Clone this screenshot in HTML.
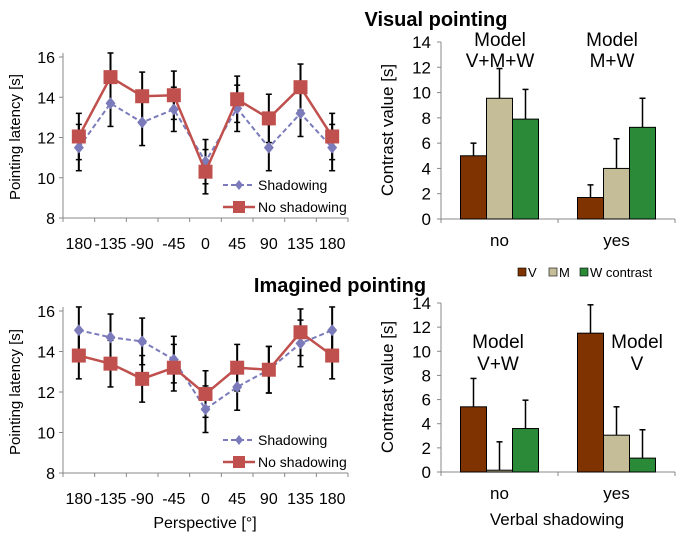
<!DOCTYPE html>
<html><head><meta charset="utf-8"><style>
body{margin:0;background:#fff}
svg text{font-family:"Liberation Sans",sans-serif;fill:#000}
</style></head><body>
<svg id="s" width="683" height="535" viewBox="0 0 683 535" xmlns="http://www.w3.org/2000/svg">
<text x="436" y="26" font-size="20" font-weight="bold" text-anchor="middle">Visual pointing</text>
<text x="340" y="292" font-size="20" font-weight="bold" text-anchor="middle">Imagined pointing</text>
<text transform="translate(20,137) rotate(-90)" font-size="15" text-anchor="middle">Pointing latency [s]</text>
<text transform="translate(20,392) rotate(-90)" font-size="15" text-anchor="middle">Pointing latency [s]</text>
<text transform="translate(393,130) rotate(-90)" font-size="17" text-anchor="middle">Contrast value [s]</text>
<text transform="translate(393,387) rotate(-90)" font-size="17" text-anchor="middle">Contrast value [s]</text>
<text x="205" y="528" font-size="16" text-anchor="middle">Perspective [°]</text>
<text x="557" y="525" font-size="17" text-anchor="middle">Verbal shadowing</text>
<g font-size="13">
<rect x="518" y="268" width="8" height="8" fill="#7f3300" stroke="#000" stroke-width="0.6"/><text x="528" y="277">V</text>
<rect x="549" y="268" width="8" height="8" fill="#c4bd97" stroke="#000" stroke-width="0.6"/><text x="559" y="277">M</text>
<rect x="580" y="268" width="8" height="8" fill="#2a8a38" stroke="#000" stroke-width="0.6"/><text x="590" y="277">W contrast</text>
</g>
<text x="500" y="46" font-size="19" text-anchor="middle">Model</text>
<text x="500" y="67" font-size="19" text-anchor="middle">V+M+W</text>
<text x="612" y="46" font-size="19" text-anchor="middle">Model</text>
<text x="612" y="67" font-size="19" text-anchor="middle">M+W</text>
<text x="498" y="348" font-size="19" text-anchor="middle">Model</text>
<text x="498" y="370" font-size="19" text-anchor="middle">V+W</text>
<text x="637" y="348" font-size="19" text-anchor="middle">Model</text>
<text x="637" y="370" font-size="19" text-anchor="middle">V</text>
</svg>
<script>
const perspCats=["180","-135","-90","-45","0","45","90","135","180"];
const visShadow=[11.5,13.7,12.75,13.4,10.8,13.45,11.5,13.2,11.5];
const visShadowErr=[1.15,1.15,1.15,1.1,1.1,1.15,1.15,1.15,1.15];
const visNoShadow=[12.05,15.0,14.05,14.1,10.3,13.9,12.95,14.5,12.05];
const visNoShadowErr=[1.15,1.2,1.2,1.2,1.1,1.15,1.2,1.15,1.15];
const imgShadow=[15.05,14.7,14.5,13.6,11.15,12.25,13.1,14.4,15.05];
const imgShadowErr=[1.15,1.15,1.15,1.15,1.15,1.15,1.15,1.15,1.15];
const imgNoShadow=[13.8,13.4,12.65,13.2,11.9,13.2,13.1,14.95,13.8];
const imgNoShadowErr=[1.15,1.15,1.15,1.15,1.15,1.15,1.15,1.15,1.15];
const lineTicks=[8,10,12,14,16];
const barGroups=["no","yes"];
const visV=[5.0,1.7],visVErr=[1.0,1.0];
const visM=[9.55,4.0],visMErr=[2.35,2.35];
const visW=[7.9,7.25],visWErr=[2.35,2.3];
const imgV=[5.4,11.5],imgVErr=[2.35,2.35];
const imgM=[0.15,3.05],imgMErr=[2.35,2.35];
const imgW=[3.6,1.15],imgWErr=[2.35,2.35];
const barTicks=[0,2,4,6,8,10,12,14];

const NS="http://www.w3.org/2000/svg",svg=document.getElementById('s');
function mk(t,a,p){const e=document.createElementNS(NS,t);for(const k in a)e.setAttribute(k,a[k]);(p||svg).appendChild(e);return e;}

function lineChart(name,top,bot,s1,e1,s2,e2,legY){
  const x0=63,x1=348,n=perspCats.length,cw=(x1-x0)/n;
  const y=v=>bot-(v-8)/8*(bot-top);const x=i=>x0+cw*(i+0.5);
  const g=mk('g',{});
  mk('line',{x1:x0,y1:top-4,x2:x0,y2:bot,stroke:'#888'},g);
  mk('line',{x1:x0,y1:bot,x2:x1,y2:bot,stroke:'#888'},g);
  lineTicks.forEach(t=>{mk('line',{x1:x0-4,y1:y(t),x2:x0,y2:y(t),stroke:'#888'},g);
    const tx=mk('text',{x:x0-8,y:y(t)+6,'font-size':16,'text-anchor':'end'},g);tx.textContent=t;
    });
  for(let i=0;i<=n;i++)mk('line',{x1:x0+cw*i,y1:bot,x2:x0+cw*i,y2:bot+4,stroke:'#888'},g);
  perspCats.forEach((c,i)=>{const tx=mk('text',{x:x(i),y:bot+31,'font-size':16,'text-anchor':'middle'},g);tx.textContent=c;
    });
  [[s1,e1],[s2,e2]].forEach(([s,e])=>s.forEach((v,i)=>{
    mk('line',{x1:x(i),y1:y(v-e[i]),x2:x(i),y2:y(v+e[i]),stroke:'#000','stroke-width':2},g);
    [v-e[i],v+e[i]].forEach(w=>mk('line',{x1:x(i)-3,y1:y(w),x2:x(i)+3,y2:y(w),stroke:'#000','stroke-width':1.5},g));}));
  const p1=mk('polyline',{points:s1.map((v,i)=>x(i)+','+y(v)).join(' '),fill:'none',stroke:'#7b7bbb','stroke-width':2,'stroke-dasharray':'5,3'},g);
  
  s1.forEach((v,i)=>{const d=mk('path',{d:`M${x(i)},${y(v)-6}l5,6l-5,6l-5,-6z`,fill:'#7b7bbb'},g);
    });
  const p2=mk('polyline',{points:s2.map((v,i)=>x(i)+','+y(v)).join(' '),fill:'none',stroke:'#c0504d','stroke-width':2.5},g);
  
  s2.forEach((v,i)=>{const r=mk('rect',{x:x(i)-7,y:y(v)-7,width:14,height:14,fill:'#c0504d'},g);
    });
  const lg=mk('g',{},g);
  mk('line',{x1:223,y1:legY,x2:255,y2:legY,stroke:'#7b7bbb','stroke-width':2,'stroke-dasharray':'5,3'},lg);
  mk('path',{d:`M239,${legY-5}l4,5l-4,5l-4,-5z`,fill:'#7b7bbb'},lg);
  let t=mk('text',{x:258,y:legY+5,'font-size':14},lg);t.textContent='Shadowing';
  mk('line',{x1:223,y1:legY+22,x2:255,y2:legY+22,stroke:'#c0504d','stroke-width':2.5},lg);
  mk('rect',{x:233,y:legY+16,width:12,height:12,fill:'#c0504d'},lg);
  t=mk('text',{x:258,y:legY+27,'font-size':14},lg);t.textContent='No shadowing';
}
lineChart('visual-line-chart',57,218,visShadow,visShadowErr,visNoShadow,visNoShadowErr,185);
lineChart('imagined-line-chart',311,473,imgShadow,imgShadowErr,imgNoShadow,imgNoShadowErr,440);

function barChart(name,top,bot,ser){
  const x0=441,x1=675,cw=(x1-x0)/2,bw=26;
  const y=v=>bot-v/14*(bot-top);
  const g=mk('g',{});
  mk('line',{x1:x0,y1:top,x2:x0,y2:bot,stroke:'#888'},g);
  mk('line',{x1:x0,y1:bot,x2:x1,y2:bot,stroke:'#888'},g);
  barTicks.forEach(t=>{mk('line',{x1:x0-4,y1:y(t),x2:x0,y2:y(t),stroke:'#888'},g);
    const tx=mk('text',{x:x0-10,y:y(t)+6,'font-size':17,'text-anchor':'end'},g);tx.textContent=t;
    });
  for(let i=0;i<=2;i++)mk('line',{x1:x0+cw*i,y1:bot,x2:x0+cw*i,y2:bot+4,stroke:'#888'},g);
  barGroups.forEach((c,i)=>{const tx=mk('text',{x:x0+cw*(i+0.5),y:bot+27,'font-size':17,'text-anchor':'middle'},g);tx.textContent=c;
    });
  const cols=['#7f3300','#c4bd97','#2a8a38'],nm=['v','m','w'];
  ser.forEach(([vals,errs],k)=>vals.forEach((v,i)=>{
    const bx=x0+cw*(i+0.5)-1.5*bw+k*bw;
    const r=mk('rect',{x:bx,y:y(v),width:bw,height:bot-y(v),fill:cols[k],stroke:'#000','stroke-width':1},g);
    
    const cx=bx+bw/2;
    mk('line',{x1:cx,y1:y(v),x2:cx,y2:y(v+errs[i]),stroke:'#000','stroke-width':1.5},g);
    mk('line',{x1:cx-3,y1:y(v+errs[i]),x2:cx+3,y2:y(v+errs[i]),stroke:'#000','stroke-width':1.5},g);
  }));
}
barChart('visual-bar-chart',42,219,[[visV,visVErr],[visM,visMErr],[visW,visWErr]]);
barChart('imagined-bar-chart',303,472,[[imgV,imgVErr],[imgM,imgMErr],[imgW,imgWErr]]);
</script>
</body></html>
